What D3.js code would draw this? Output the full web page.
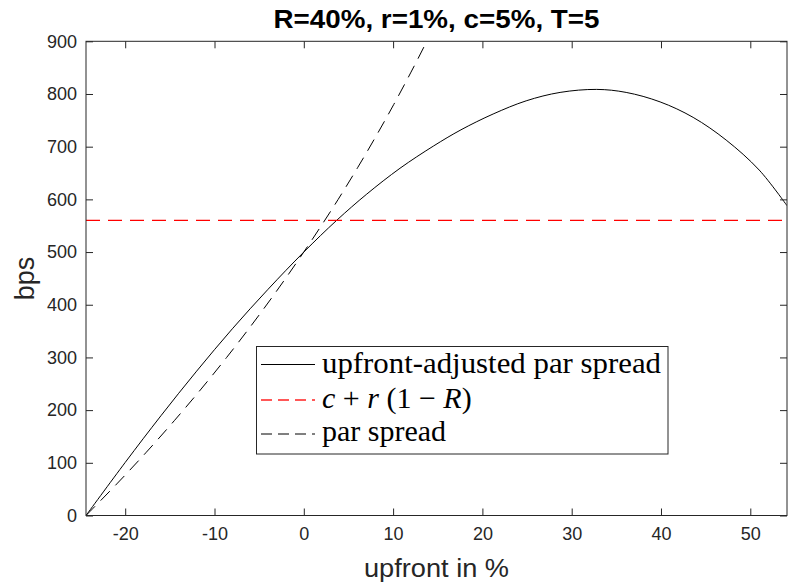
<!DOCTYPE html>
<html lang="en">

<head>
    <meta charset="UTF-8">
    <title>upfront vs par spread</title>
    <script src="https://d3js.org/d3.v7.min.js"></script>
    <style>
        body { margin: 0; background: #fff; }
        svg { display: block; }
    </style>
</head>

<body>
    <svg id="chart" width="790" height="586"></svg>

    <script>
        // values (upfront in %, spread in bps)
        const adjUpfront = [-24.39, -20, -16, -12, -8, -4, 0, 3.7, 7.05, 10.77, 14.5, 17.6, 21.2, 24.9, 28.7, 32.8, 36.1, 39.9, 43.6, 47.3, 51.0, 54.11];
        const adjSpread = [0, 100.7, 189.3, 274, 354.4, 429.4, 500, 560.5, 610, 659, 701, 732, 762, 787, 803, 808.7, 803, 785, 755.6, 712.5, 655.6, 588];

        const parUpfront = [-24.39, -20.94, -17.64, -14.50, -11.50, -8.64, -5.91, -3.30, -0.81, 1.57, 3.85, 6.02, 8.09, 10.07, 11.96, 13.77, 15.49];
        const parSpread = [0, 60, 120, 180, 240, 300, 360, 420, 480, 540, 600, 660, 720, 780, 840, 900, 960];

        const flatSpread = 560; // c + r(1-R)

        const xTicks = [-20, -10, 0, 10, 20, 30, 40, 50];
        const yTicks = [0, 100, 200, 300, 400, 500, 600, 700, 800, 900];

        const titleText = "R=40%, r=1%, c=5%, T=5";
        const xLabel = "upfront in %";
        const yLabel = "bps";

        const svg = d3.select("#chart");
        const plotLeft = 86, plotRight = 787, plotTop = 41.3, plotBottom = 515.5;
        const axisColor = "#262626";

        const x = d3.scaleLinear().domain([-24.39, 54.11]).range([plotLeft, plotRight]);
        const y = d3.scaleLinear().domain([0, 900]).range([plotBottom, plotTop]);

        svg.append("clipPath").attr("id", "plotClip")
            .append("rect")
            .attr("x", plotLeft).attr("y", plotTop)
            .attr("width", plotRight - plotLeft).attr("height", plotBottom - plotTop);

        const plot = svg.append("g").attr("clip-path", "url(#plotClip)");

        const line = d3.line()
            .x(d => x(d[0]))
            .y(d => y(d[1]))
            .curve(d3.curveCatmullRom);

        plot.append("path")
            .datum(d3.zip(parUpfront, parSpread))
            .attr("d", line)
            .attr("fill", "none")
            .attr("stroke", "#000")
            .attr("stroke-width", 1)
            .attr("stroke-dasharray", "13,8");

        plot.append("path")
            .datum(d3.zip(adjUpfront, adjSpread))
            .attr("d", line)
            .attr("fill", "none")
            .attr("stroke", "#000")
            .attr("stroke-width", 1);

        plot.append("line")
            .attr("x1", plotLeft).attr("x2", plotRight)
            .attr("y1", y(flatSpread)).attr("y2", y(flatSpread))
            .style("stroke", "#ff0000")
            .attr("stroke-width", 1.2)
            .attr("stroke-dasharray", "14,8");

        // axes (box with inward ticks on all sides)
        const tickLen = 7;
        const fmt = d => String(d);
        const bottomAxis = d3.axisBottom(x).tickValues(xTicks).tickSize(-tickLen).tickPadding(12).tickFormat(fmt);
        const topAxis = d3.axisTop(x).tickValues(xTicks).tickSize(-tickLen).tickFormat("");
        const leftAxis = d3.axisLeft(y).tickValues(yTicks).tickSize(-tickLen).tickPadding(9).tickFormat(fmt);
        const rightAxis = d3.axisRight(y).tickValues(yTicks).tickSize(-tickLen).tickFormat("");

        function styleAxis(g) {
            g.select(".domain").remove();
            g.selectAll(".tick line").attr("stroke", axisColor).attr("stroke-width", 1);
            g.selectAll(".tick text")
                .attr("fill", axisColor)
                .style("font-family", "'Liberation Sans', Arial, sans-serif")
                .style("font-size", "18px");
        }

        svg.append("g").attr("transform", `translate(0,${plotBottom})`).call(bottomAxis).call(styleAxis)
            .selectAll(".tick text").attr("dy", "0.71em");
        svg.append("g").attr("transform", `translate(0,${plotTop})`).call(topAxis).call(styleAxis);
        svg.append("g").attr("transform", `translate(${plotLeft},0)`).call(leftAxis).call(styleAxis);
        svg.append("g").attr("transform", `translate(${plotRight},0)`).call(rightAxis).call(styleAxis);
        svg.append("rect")
            .attr("x", plotLeft).attr("y", plotTop)
            .attr("width", plotRight - plotLeft).attr("height", plotBottom - plotTop)
            .attr("fill", "none").attr("stroke", axisColor).attr("stroke-width", 1);

        // labels
        svg.append("text")
            .attr("x", (plotLeft + plotRight) / 2).attr("y", 28)
            .attr("text-anchor", "middle")
            .style("font-family", "'Liberation Sans', Arial, sans-serif")
            .style("font-weight", "bold")
            .style("font-size", "25px")
            .attr("textLength", 326).attr("lengthAdjust", "spacingAndGlyphs")
            .text(titleText);

        svg.append("text")
            .attr("x", (plotLeft + plotRight) / 2).attr("y", 577)
            .attr("text-anchor", "middle")
            .attr("fill", axisColor)
            .style("font-family", "'Liberation Sans', Arial, sans-serif")
            .style("font-size", "25px")
            .attr("textLength", 145).attr("lengthAdjust", "spacingAndGlyphs")
            .text(xLabel);

        svg.append("text")
            .attr("transform", `translate(34,${(plotTop + plotBottom) / 2}) rotate(-90)`)
            .attr("text-anchor", "middle")
            .attr("fill", axisColor)
            .style("font-family", "'Liberation Sans', Arial, sans-serif")
            .style("font-size", "27px")
            .text(yLabel);

        // legend
        const legend = svg.append("g");
        legend.append("rect")
            .attr("x", 256.5).attr("y", 346.5)
            .attr("width", 411.5).attr("height", 107.5)
            .attr("fill", "#fff")
            .attr("stroke", axisColor).attr("stroke-width", 1);

        const legendRows = [
            { ly: 364.5, color: "#000000", dash: "none", w: 1 },
            { ly: 400, color: "#ff2020", dash: "11,6", w: 1.6 },
            { ly: 434, color: "#000000", dash: "11,6", w: 1 }
        ];
        legend.selectAll("line.key")
            .data(legendRows)
            .join("line")
            .attr("class", "key")
            .attr("x1", 261).attr("x2", 315)
            .attr("y1", d => d.ly).attr("y2", d => d.ly)
            .style("stroke", d => d.color)
            .style("stroke-width", d => d.w)
            .style("stroke-dasharray", d => d.dash);

        const serif = "'Liberation Serif', 'Times New Roman', serif";
        legend.append("text")
            .attr("x", 322).attr("y", 373)
            .style("font-family", serif).style("font-size", "30px")
            .attr("textLength", 339).attr("lengthAdjust", "spacingAndGlyphs")
            .text("upfront-adjusted par spread");

        const mathText = legend.append("text")
            .attr("x", 322).attr("y", 407.5)
            .style("font-family", serif).style("font-size", "30px");
        mathText.append("tspan").style("font-style", "italic").text("c");
        mathText.append("tspan").text(" + ");
        mathText.append("tspan").style("font-style", "italic").text("r");
        mathText.append("tspan").text(" (1 \u2212 ");
        mathText.append("tspan").style("font-style", "italic").text("R");
        mathText.append("tspan").text(")");

        legend.append("text")
            .attr("x", 322).attr("y", 441)
            .style("font-family", serif).style("font-size", "30px")
            .text("par spread");
    </script>

</body>

</html>
